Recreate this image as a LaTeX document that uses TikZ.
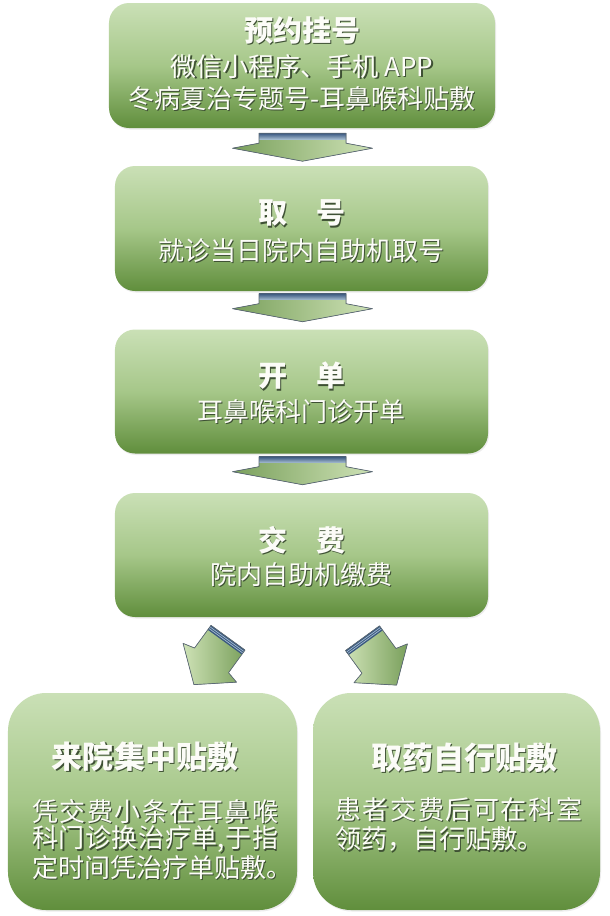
\documentclass[tikz,border=0pt]{standalone}
\usepackage{fontspec}
\newfontfamily\cjk{Noto Sans CJK SC}
\usetikzlibrary{calc,shadows}
\definecolor{boxtop}{RGB}{202,224,182}
\definecolor{boxmid}{RGB}{166,199,137}
\definecolor{boxbot}{RGB}{96,142,60}
\definecolor{txtw}{RGB}{252,252,248}
\definecolor{txtsh}{RGB}{62,80,52}
\definecolor{arrL}{RGB}{122,160,92}
\definecolor{arrR}{RGB}{206,226,182}
\definecolor{arrEdge}{RGB}{92,106,118}
\definecolor{bandT}{RGB}{165,188,208}
\definecolor{bandB}{RGB}{58,88,128}
\newcommand\sht[1]{\leavevmode\rlap{\kern1.4bp\raisebox{-1.4bp}{\color{txtsh}#1}}#1}
\begin{document}
\begin{tikzpicture}[x=1bp,y=-1bp,
  box/.style={rounded corners=20bp, top color=boxtop, bottom color=boxbot, middle color=boxmid,
    inner sep=0pt, drop shadow={opacity=0.15,shadow xshift=1bp,shadow yshift=-1.5bp}},
  bigbox/.style={box, rounded corners=38bp},
  ttl/.style={text=txtw, font=\cjk\bfseries\fontsize{29bp}{33bp}\selectfont, inner sep=0pt},
  bttl/.style={ttl, font=\cjk\bfseries\fontsize{31bp}{35bp}\selectfont},
  sub/.style={text=txtw, font=\cjk\fontsize{26bp}{30bp}\selectfont, inner sep=0pt},
  body/.style={sub, anchor=west},
  downarr/.pic={
    \fill[left color=arrL, right color=arrR] (-43.5,0) -- (43.5,0) -- (43.5,10) -- (70,15) -- (0,28) -- (-70,15) -- (-43.5,10) -- cycle;
    \fill[top color=bandB, bottom color=bandT] (-43.5,0) rectangle (43.5,6);
    \draw[arrEdge, line width=0.7bp, line join=round] (-43.5,0) -- (43.5,0) -- (43.5,10) -- (70,15) -- (0,28) -- (-70,15) -- (-43.5,10) -- cycle;
  },
  diagarr/.pic={
    \fill[left color=arrR, right color=arrL] (0,-21) -- (28,-21) -- (31,-33) -- (58,0) -- (31,33) -- (28,21) -- (0,21) -- cycle;
    \fill[bandB] (0,-21) rectangle (5.5,21);
    \draw[bandT, line width=0.7bp] (1.8,-21) -- (1.8,21) (3.7,-21) -- (3.7,21);
    \draw[arrEdge, line width=0.7bp, line join=round] (0,-21) -- (28,-21) -- (31,-33) -- (58,0) -- (31,33) -- (28,21) -- (0,21) -- cycle;
  }]
\useasboundingbox[fill=white] (0,0) rectangle (610,916);

% boxes
\node[box, minimum width=386bp, minimum height=125bp] (b1) at (302,65.5) {};
\node[box, minimum width=373bp, minimum height=125bp] (b2) at (301.5,228.5) {};
\node[box, minimum width=373bp, minimum height=124bp] (b3) at (301.5,391.5) {};
\node[box, minimum width=373bp, minimum height=124bp] (b4) at (301.5,555) {};
\node[bigbox, minimum width=289bp, minimum height=217bp] (bl) at (152.5,801.5) {};
\node[bigbox, minimum width=287bp, minimum height=217bp] (br) at (456.5,801.5) {};

% texts
\node[ttl] (t1) at (302,31) {\sht{预约挂号}};
\node[sub] (t1a) at (302,67) {\sht{微信小程序、手机 APP}};
\node[sub] (t1b) at (302,99) {\sht{冬病夏治专题号-耳鼻喉科贴敷}};

\node[ttl] (t2) at ($(b2.north)+(0,48)$) {\sht{取\hspace{1em}号}};
\node[sub] (t2a) at ($(b2.north)+(0,85)$) {\sht{就诊当日院内自助机取号}};

\node[ttl] (t3) at ($(b3.north)+(0,47.5)$) {\sht{开\hspace{1em}单}};
\node[sub] (t3a) at ($(b3.north)+(0,83)$) {\sht{耳鼻喉科门诊开单}};

\node[ttl] (t4) at ($(b4.north)+(0,48)$) {\sht{交\hspace{1em}费}};
\node[sub] (t4a) at ($(b4.north)+(0,82)$) {\sht{院内自助机缴费}};

\node[bttl] (tl) at (145,757) {\sht{来院集中贴敷}};
\node[body] (bl1) at (32,812) {\sht{\makebox[246bp][l]{凭\hfill 交\hfill 费\hfill 小\hfill 条\hfill 在\hfill 耳\hfill 鼻\hfill 喉}}};
\node[body] (bl2) at (32,840) {\sht{\makebox[246bp][l]{科\hfill 门\hfill 诊\hfill 换\hfill 治\hfill 疗\hfill 单,\hfill 于\hfill 指}}};
\node[body] (bl3) at (32,868) {\sht{定时间凭治疗单贴敷。}};

\node[bttl] (tr) at (464,758) {\sht{取药自行贴敷}};
\node[body] (br1) at (335,810) {\sht{\makebox[247bp][l]{患\hfill 者\hfill 交\hfill 费\hfill 后\hfill 可\hfill 在\hfill 科\hfill 室}}};
\node[body] (br2) at (335,840) {\sht{领药，自行贴敷。}};

% arrows
\pic at ($(b1.south)+(0.5,5)$) {downarr};
\pic at ($(b2.south)+(1,2.5)$) {downarr};
\pic at ($(b3.south)+(1,3)$) {downarr};
\pic[rotate=234] at ($(b4.south)+(-73.5,20.5)$) {diagarr};
\pic[rotate=306] at ($(b4.south)+(61,21)$) {diagarr};
\end{tikzpicture}
\end{document}
